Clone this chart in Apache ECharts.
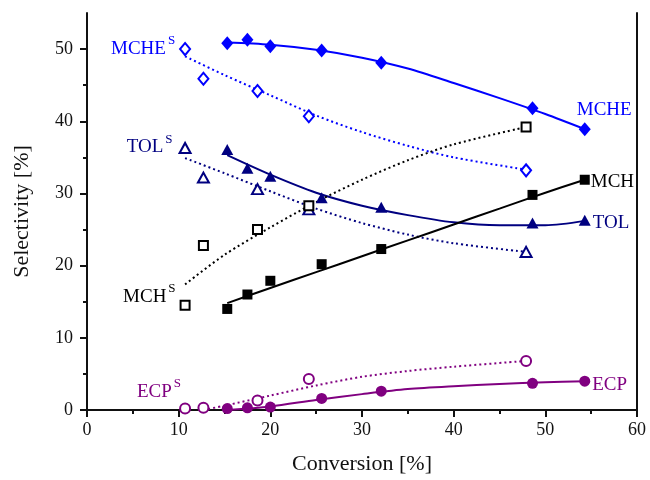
<!DOCTYPE html>
<html>
<head>
<meta charset="utf-8">
<script src="https://cdn.jsdelivr.net/npm/echarts@6/dist/echarts.min.js"></script>
<style>html,body{margin:0;padding:0;background:#fff}#c{width:650px;height:480px}</style>
</head>
<body>
<div id="c"></div>
<script>
// Measured points
const xFilled = [15.3, 17.5, 20.0, 25.6, 32.1, 48.6, 54.3];
const xOpen = [10.7, 12.7, 18.6, 24.2, 47.9];
const mche = [50.8, 51.3, 50.4, 49.8, 48.1, 41.8, 38.9];
const mcheS = [50.0, 45.9, 44.2, 40.7, 33.2];
const tol = [36.1, 33.5, 32.4, 29.4, 28.1, 25.9, 26.3];
const tolS = [36.3, 32.2, 30.6, 27.8, 21.9];
const mch = [14.0, 16.0, 17.9, 20.2, 22.3, 29.8, 31.9];
const mchS = [14.5, 22.8, 25.0, 28.3, 39.2];
const ecp = [0.2, 0.3, 0.4, 1.6, 2.6, 3.7, 4.0];
const ecpS = [0.2, 0.3, 1.3, 4.3, 6.8];

// Fitted curves
const mcheFitX = [15.3, 20, 25, 30, 35, 40, 45, 50, 54.3];
const mcheFitY = [50.9, 50.6, 49.9, 48.8, 47.3, 45.3, 43.2, 41.0, 38.9];
const mcheSFitX = [10.7, 15, 20, 25, 30, 35, 40, 47.9];
const mcheSFitY = [49.0, 46.4, 43.6, 40.8, 38.5, 36.6, 35.0, 33.3];
const tolFitX = [15.3, 20, 25, 30, 35, 40, 45, 50, 54.3];
const tolFitY = [35.3, 32.6, 30.1, 28.3, 27.0, 26.0, 25.6, 25.6, 26.2];
const tolSFitX = [10.7, 15, 20, 25, 30, 35, 40, 47.9];
const tolSFitY = [34.9, 32.8, 30.3, 27.9, 25.9, 24.3, 23.1, 21.9];
const mchFitX = [15.3, 20, 25, 30, 35, 40, 45, 50, 54.3];
const mchFitY = [14.8, 16.9, 19.1, 21.3, 23.5, 25.7, 27.9, 30.1, 31.9];
const mchSFitX = [10.7, 15, 20, 25, 30, 35, 40, 47.9];
const mchSFitY = [17.4, 21.5, 25.3, 28.8, 31.9, 34.6, 36.8, 39.2];
const ecpFitX = [15.3, 20, 25, 30, 35, 40, 45, 50, 54.3];
const ecpFitY = [0.0, 0.5, 1.4, 2.2, 2.9, 3.3, 3.6, 3.85, 4.0];
const ecpSFitX = [12.7, 15, 20, 25, 30, 35, 40, 47.9];
const ecpSFitY = [0.0, 0.6, 2.0, 3.4, 4.6, 5.4, 6.0, 6.8];

const xTicks = [0, 10, 20, 30, 40, 50, 60];
const yTicks = [0, 10, 20, 30, 40, 50];
const yMinorTicks = [5, 15, 25, 35, 45];

const FONT = 'Liberation Serif';
const C_MCHE = '#0000ff', C_TOL = '#000080', C_MCH = '#000000', C_ECP = '#800080';

function pairs(xs, ys) { return xs.map((x, i) => [x, ys[i]]); }

function richLabel(color) {
  return {
    a: { fontFamily: FONT, fontSize: 19, color: color, lineHeight: 24, verticalAlign: 'bottom' },
    s: { fontFamily: FONT, fontSize: 13, color: color, verticalAlign: 'top', lineHeight: 13, padding: [0, 0, 0, 2] }
  };
}

function pointSeries(xs, ys, symbol, size, color, filled, labelIdx, labelText, labelCfg) {
  return {
    type: 'scatter',
    z: 5,
    symbol: symbol,
    symbolSize: size,
    itemStyle: filled ? { color: color, opacity: 1 } : { color: '#fff', borderColor: color, borderWidth: 2, opacity: 1 },
    data: xs.map((x, i) => {
      const d = { value: [x, ys[i]] };
      if (i === labelIdx) {
        d.label = Object.assign({
          show: true,
          formatter: labelText,
          rich: richLabel(color),
          fontFamily: FONT, fontSize: 19, color: color
        }, labelCfg);
      }
      return d;
    }),
    emphasis: { disabled: true }
  };
}

function fitSeries(xs, ys, color, dotted) {
  return {
    type: 'line',
    z: 3,
    smooth: 0.3,
    showSymbol: false,
    symbol: 'none',
    lineStyle: { color: color, width: 2, type: dotted ? [2, 3] : 'solid' },
    data: pairs(xs, ys),
    emphasis: { disabled: true },
    silent: true
  };
}

const chart = echarts.init(document.getElementById('c'));
const axisLineStyle = { color: '#111', width: 2 };
chart.setOption({
  animation: false,
  backgroundColor: '#fff',
  grid: { left: 87, right: 13, top: 13, bottom: 64 },
  xAxis: {
    type: 'value', min: 0, max: 60, interval: 10,
    name: 'Conversion [%]', nameLocation: 'middle', nameGap: 43,
    nameTextStyle: { fontFamily: FONT, fontSize: 22, color: '#111' },
    axisLine: { show: true, onZero: false, lineStyle: axisLineStyle },
    axisTick: { show: true, inside: false, length: 7, lineStyle: { color: '#111', width: 2 } },
    minorTick: { show: true, splitNumber: 2, length: 4, lineStyle: { color: '#111', width: 2 } },
    axisLabel: { fontFamily: FONT, fontSize: 18, color: '#111', margin: 11 },
    splitLine: { show: false }
  },
  yAxis: [{
    type: 'value', min: 0, max: 55, position: 'left',
    name: 'Selectivity [%]', nameLocation: 'middle', nameGap: 54,
    nameTextStyle: { fontFamily: FONT, fontSize: 22, color: '#111' },
    axisLine: { show: true, onZero: false, lineStyle: axisLineStyle },
    axisTick: { show: true, inside: false, length: 7, customValues: yTicks, lineStyle: { color: '#111', width: 2 } },
    axisLabel: { fontFamily: FONT, fontSize: 18, color: '#111', margin: 14, customValues: yTicks },
    splitLine: { show: false }
  }, {
    type: 'value', min: 0, max: 55, position: 'left', offset: 0,
    axisLine: { show: false },
    axisTick: { show: true, inside: false, length: 4, customValues: yMinorTicks, lineStyle: { color: '#111', width: 2 } },
    axisLabel: { show: false },
    splitLine: { show: false }
  }, {
    type: 'value', min: 0, max: 55, position: 'right',
    axisLine: { show: true, onZero: false, lineStyle: axisLineStyle },
    axisTick: { show: false },
    axisLabel: { show: false },
    splitLine: { show: false }
  }],
  series: [
    fitSeries(mcheFitX, mcheFitY, C_MCHE, false),
    fitSeries(mcheSFitX, mcheSFitY, C_MCHE, true),
    fitSeries(tolFitX, tolFitY, C_TOL, false),
    fitSeries(tolSFitX, tolSFitY, C_TOL, true),
    fitSeries(mchFitX, mchFitY, C_MCH, false),
    fitSeries(mchSFitX, mchSFitY, C_MCH, true),
    fitSeries(ecpFitX, ecpFitY, C_ECP, false),
    fitSeries(ecpSFitX, ecpSFitY, C_ECP, true),
    pointSeries(xFilled, mche, 'diamond', [12, 14], C_MCHE, true, 6, '{a|MCHE}', { position: 'right', distance: 0, offset: [-14, -22] }),
    pointSeries(xOpen, mcheS, 'diamond', [10, 12], C_MCHE, false, 0, '{a|MCHE}{s|S}', { position: 'left', distance: 4, offset: [0, -3] }),
    pointSeries(xFilled, tol, 'triangle', [12, 11], C_TOL, true, 6, '{a|TOL}', { position: 'right', distance: 2, offset: [0, 0] }),
    pointSeries(xOpen, tolS, 'triangle', [11, 10], C_TOL, false, 0, '{a|TOL}{s|S}', { position: 'left', distance: 6, offset: [0, -3] }),
    pointSeries(xFilled, mch, 'rect', 10, C_MCH, true, 6, '{a|MCH}', { position: 'right', distance: 1, offset: [0, 0] }),
    pointSeries(xOpen, mchS, 'rect', 9, C_MCH, false, 0, '{a|MCH}{s|S}', { position: 'left', distance: 4, offset: [0, -11] }),
    pointSeries(xFilled, ecp, 'circle', 11, C_ECP, true, 6, '{a|ECP}', { position: 'right', distance: 2, offset: [0, 1] }),
    pointSeries(xOpen, ecpS, 'circle', 10, C_ECP, false, 0, '{a|ECP}{s|S}', { position: 'left', distance: 0, offset: [2, -19] })
  ]
});
</script>
</body>
</html>
